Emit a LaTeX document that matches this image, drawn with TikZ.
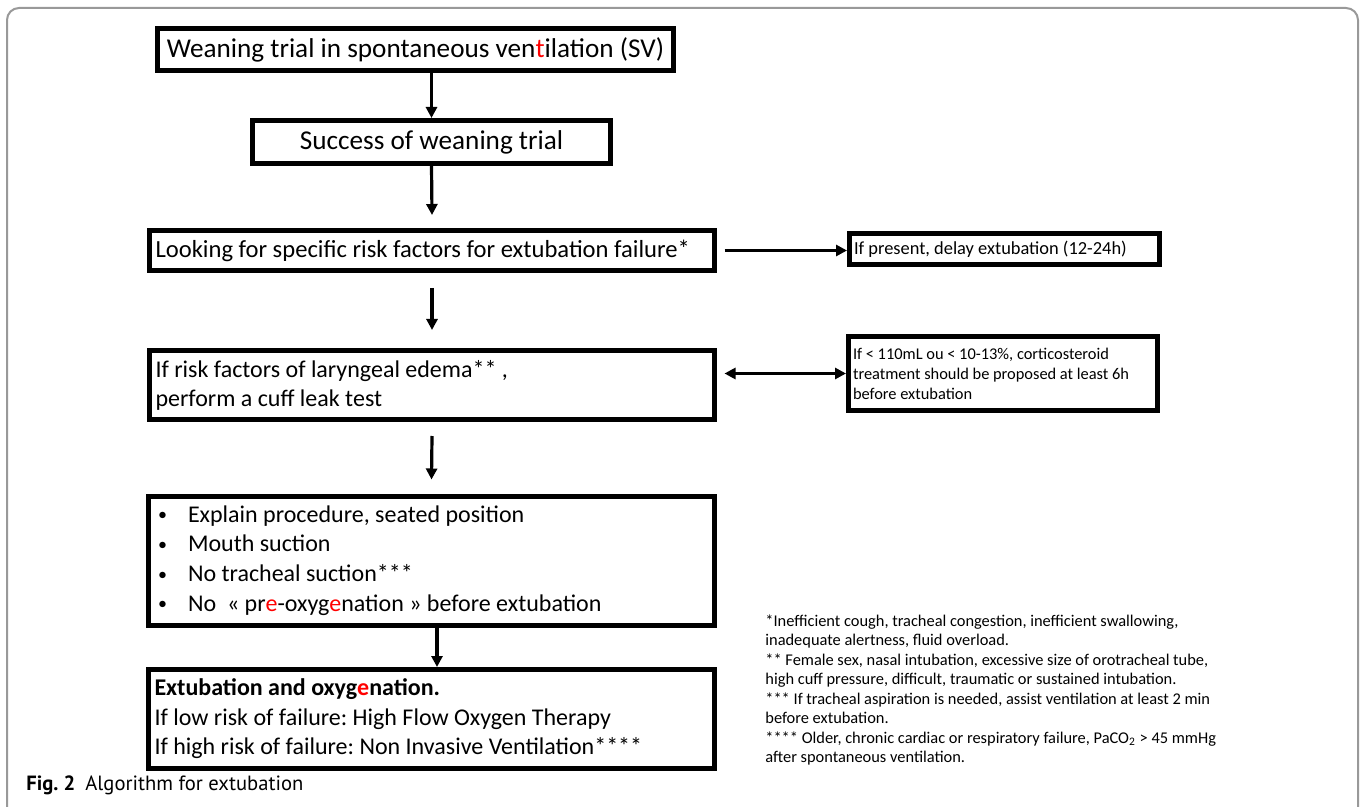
\documentclass[tikz,border=0pt]{standalone}
\usepackage{fontspec}
\setmainfont{Carlito}
\newfontfamily\capfont{PT Sans}
\usetikzlibrary{arrows.meta}
\frenchspacing
\newcommand{\bul}{\makebox[15pt][l]{\raisebox{0.8pt}{\fontsize{9}{9}\selectfont\textbullet}}}

\begin{document}
\begin{tikzpicture}[x=0.5pt,y=-0.5pt,
    box/.style={draw, line width=2.5pt, inner sep=0pt, inner xsep=3pt},
    flow/.style={line width=1.6pt, -{Triangle[width=5.5pt,length=5.5pt]}}]
    \useasboundingbox (0,0) rectangle (1364,807);
    \clip (0,0) rectangle (1364,807);
    \draw[gray!80, line width=1pt, rounded corners=6pt] (7,8) rectangle (1358,860);
    \node[box, minimum width=258pt, minimum height=21pt, font=\fontsize{13.6}{16}\selectfont] (trial) at (415.5,49.5)
        {Weaning trial in spontaneous ven\textcolor{red}{t}ilation (SV)};
    \node[box, minimum width=179pt, minimum height=21.5pt, font=\fontsize{13.6}{16}\selectfont] (success) at (431.5,142)
        {Success of weaning trial};
    \node[box, text width=276.5pt, minimum height=20pt, align=flush left, font=\fontsize{12.3}{14.5}\selectfont] (risk) at (432,250.5)
        {Looking for specific risk factors for extubation failure*};
    \node[box, text width=276.5pt, minimum height=34.5pt, align=flush left, font=\fontsize{12}{14.5}\selectfont] (edema) at (432,385)
        {If risk factors of laryngeal edema** ,\\perform a cuff leak test};
    \node[box, inner xsep=4.75pt, text width=273.5pt, minimum height=64.5pt, align=flush left, font=\fontsize{12}{14.85}\selectfont] (prep) at (431.5,560.5)
        {\bul Explain procedure, seated position\\
         \bul Mouth suction\\
         \bul No tracheal suction***\\
         \bul No\ \ « pr\textcolor{red}{e}-oxyg\textcolor{red}{e}nation » before extubation};
    \node[box, text width=277pt, minimum height=49.5pt, align=flush left, font=\fontsize{12}{14.75}\selectfont] (extub) at (431.5,719)
        {\textbf{Extubation and oxyg\textcolor{red}{e}nation.}\\
         If low risk of failure: High Flow Oxygen Therapy\\
         If high risk of failure: Non Invasive Ventilation****};
    \node[box, inner xsep=2.25pt, text width=150.5pt, minimum height=15.5pt, align=flush left, font=\fontsize{9.2}{10}\selectfont] (delay) at (1004.5,249)
        {If present, delay extubation (12-24h)};
    \node[box, inner xsep=2.25pt, text width=150pt, minimum height=37pt, align=flush left, font=\fontsize{8.2}{10}\selectfont] (cortico) at (1003,373.5)
        {If < 110mL ou < 10-13\%, corticosteroid\\treatment should be proposed at least 6h\\before extubation};
    \node[anchor=north west, inner sep=0pt, align=flush left, font=\fontsize{8.2}{9.75}\selectfont] (notes) at (765,614)
        {*Inefficient cough, tracheal congestion, inefficient swallowing,\\
         inadequate alertness, fluid overload.\\
         ** Female sex, nasal intubation, excessive size of orotracheal tube,\\
         high cuff pressure, difficult, traumatic or sustained intubation.\\
         *** If tracheal aspiration is needed, assist ventilation at least 2 min\\
         before extubation.\\
         **** Older, chronic cardiac or respiratory failure, PaCO\textsubscript{2} > 45 mmHg\\
         after spontaneous ventilation.};
    \node[anchor=base west, inner sep=0pt, font=\capfont\fontsize{10.3}{11}\selectfont] (caption) at (26,790)
        {\textbf{Fig. 2}\hspace{5pt}Algorithm for extubation};
    \draw[flow] (trial.south -| success.north) -- (success.north);
    \draw[flow] (success.south) -- ([yshift=6.5pt]risk.north);
    \draw[flow] ([yshift=-7.5pt]risk.south) -- ([yshift=9pt]edema.north);
    \draw[flow] ([yshift=-7pt]edema.south) -- ([yshift=7pt]prep.north);
    \draw[flow] ([xshift=2.75pt]prep.south) -- ([xshift=2.75pt]extub.north);
    \draw[flow, line width=1.4pt] ([xshift=3.75pt]risk.east) -- (risk.east -| delay.west);
    \draw[flow, line width=1.4pt, {Triangle[width=5.5pt,length=5.5pt]}-{Triangle[width=5.5pt,length=5.5pt]}] ([xshift=3.75pt]edema.east |- cortico.west) -- (cortico.west);
\end{tikzpicture}
\end{document}
